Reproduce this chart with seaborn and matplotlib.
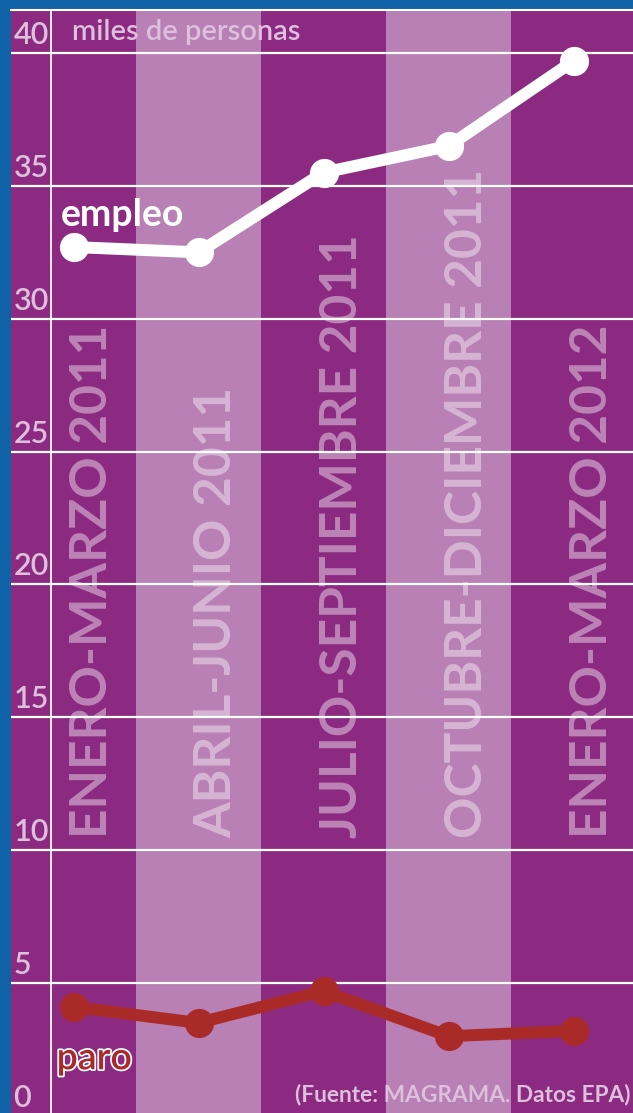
import pandas as pd
import seaborn as sns
import matplotlib.pyplot as plt
import matplotlib.patheffects as pe

# data (miles de personas)
periodos = ["ENERO-MARZO 2011", "ABRIL-JUNIO 2011", "JULIO-SEPTIEMBRE 2011",
            "OCTUBRE-DICIEMBRE 2011", "ENERO-MARZO 2012"]
empleo = [32.7, 32.5, 35.5, 36.5, 39.7]
paro = [4.1, 3.5, 4.7, 3.0, 3.2]
y_ticks = [0, 5, 10, 15, 20, 25, 30, 35, 40]

DARK = "#8c2a82"
LIGHT = "#b880b4"
LAV = "#dcc0dc"
RED = "#aa2a27"

df = pd.DataFrame({"pos": range(len(periodos)), "periodo": periodos,
                   "empleo": empleo, "paro": paro})

sns.set_theme(style="white")
plt.rcParams["font.family"] = ["Lato", "DejaVu Sans"]

W, H = 633, 1113
fig = plt.figure(figsize=(W / 100, H / 100), dpi=100, facecolor="#0f62a6")
ax = fig.add_axes([11 / W, 0, (W - 11) / W, (H - 10) / H])
ax.set_facecolor(DARK)
ax.set_xlim(-0.5, 4.476)
ax.set_ylim(0.11, 41.62)

# alternating column bands
for i in range(len(periodos)):
    ax.axvspan(i - 0.5, i + 0.5, color=DARK if i % 2 == 0 else LIGHT, lw=0, zorder=0)

# horizontal grid + left separator
for v in y_ticks:
    ax.axhline(v, color="white", lw=1.6, zorder=1)
    ax.text(-0.48, v + 0.15, str(v), color=LAV, fontsize=22, fontweight="semibold",
            ha="left", va="bottom", zorder=2)
ax.axvline(-0.18, color="white", lw=1.3, zorder=1)

# rotated period labels
for i, p in enumerate(periodos):
    ax.text(i + 0.15, 10.45, p, rotation=90, ha="center", va="bottom",
            fontsize=37, fontweight="bold", color="white", alpha=0.42, zorder=2)

sns.lineplot(data=df, x="pos", y="empleo", ax=ax, color="white", lw=8.6,
             marker="o", markersize=21, markeredgewidth=0, zorder=4)
sns.lineplot(data=df, x="pos", y="paro", ax=ax, color=RED, lw=8.6,
             marker="o", markersize=21, markeredgewidth=0, zorder=4)

ax.text(-0.015, 40.3, "miles de personas", color=LAV, fontsize=21,
        fontweight="semibold", ha="left", va="bottom", zorder=3)
ax.text(-0.1, 33.9, "empleo", color="white", fontsize=27, fontweight="bold",
        ha="left", va="center", zorder=5)
ax.text(-0.135, 2.15, "paro", color=RED, fontsize=27, fontweight="semibold",
        ha="left", va="center", zorder=5,
        path_effects=[pe.withStroke(linewidth=2.5, foreground="white")])
ax.text(4.455, 0.4, "(Fuente: MAGRAMA. Datos EPA)", color=LAV, fontsize=16.3,
        fontweight="bold", ha="right", va="bottom", zorder=3)

ax.set_xticks([])
ax.set_yticks([])
ax.set_xlabel("")
ax.set_ylabel("")
for s in ["left", "right", "bottom"]:
    ax.spines[s].set_visible(False)
ax.spines["top"].set_color("white")
ax.spines["top"].set_linewidth(1.5)

fig.savefig("out.png", dpi=100, facecolor=fig.get_facecolor())
